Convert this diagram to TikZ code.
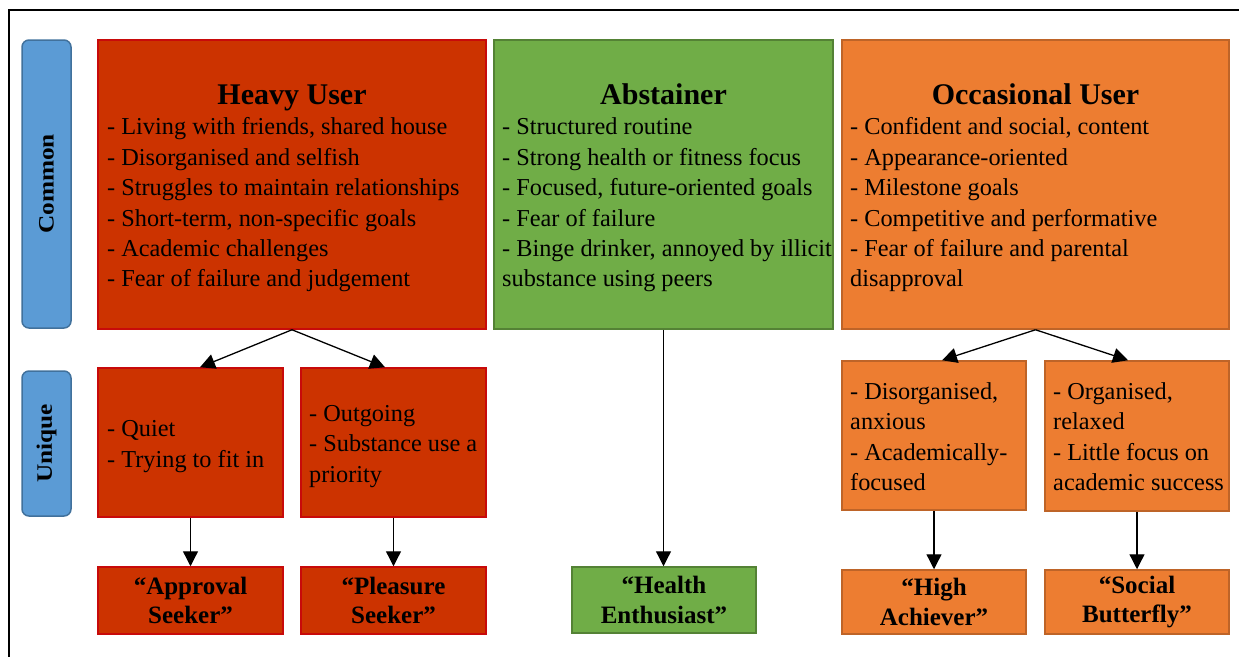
\documentclass[tikz,border=0pt]{standalone}
\usepackage{fontspec}
\setmainfont{Liberation Serif}
\usetikzlibrary{arrows.meta,calc}
\definecolor{hufill}{RGB}{204,51,0}
\definecolor{hudraw}{RGB}{200,10,10}
\definecolor{abfill}{RGB}{112,173,71}
\definecolor{abdraw}{RGB}{84,130,53}
\definecolor{oufill}{RGB}{237,125,49}
\definecolor{oudraw}{RGB}{190,100,40}
\definecolor{blfill}{RGB}{91,155,213}
\definecolor{bldraw}{RGB}{65,113,156}
\tikzset{
  hubox/.style={draw=hudraw, fill=hufill, line width=1.5pt, inner sep=0pt},
  abbox/.style={draw=abdraw, fill=abfill, line width=1.5pt, inner sep=0pt},
  oubox/.style={draw=oudraw, fill=oufill, line width=1.5pt, inner sep=0pt},
  sidebox/.style={draw=bldraw, fill=blfill, line width=1.5pt, rounded corners=7pt, inner sep=0pt, minimum width=49pt},
  sidelabel/.style={rotate=90, inner sep=0pt, font=\fontsize{22}{24}\selectfont\bfseries},
  titletext/.style={inner sep=0pt, anchor=base, font=\fontsize{30}{32}\selectfont\bfseries},
  bodytext/.style={inner sep=0pt, anchor=west, align=left, font=\fontsize{24.3}{30.4}\selectfont},
  typetext/.style={inner sep=0pt, align=center, font=\fontsize{25}{29.5}\selectfont\bfseries},
  arr/.style={line width=1.3pt, -{Triangle[length=15pt,width=15pt]}}
}
\begin{document}
\begin{tikzpicture}[x=1pt,y=-1pt]
\useasboundingbox (0,0) rectangle (1239,656);
\draw[line width=2pt] (9,10) rectangle (1260,680);

% side labels
\node[sidebox, minimum height=288pt] (common) at (46.5,184) {};
\node[sidelabel] (commonlbl) at (46.5,184) {\scalebox{1.15}[1]{Common}};
\node[sidebox, minimum height=145pt] (unique) at (46.5,443.5) {};
\node[sidelabel] (uniquelbl) at (46.5,443.5) {\scalebox{1.15}[1]{Unique}};

% common boxes
\node[hubox, minimum width=388pt, minimum height=289pt] (hu) at (292,184.5) {};
\node[titletext] (hut) at (292,104) {Heavy User};
\node[bodytext] (hub) at (107,205) {- Living with friends, shared house\\- Disorganised and selfish\\- Struggles to maintain relationships\\- Short-term, non-specific goals\\- Academic challenges\\- Fear of failure and judgement};

\node[abbox, minimum width=339pt, minimum height=289pt] (ab) at (663.5,184.5) {};
\node[titletext] (abt) at (663.5,104) {Abstainer};
\node[bodytext] (abb) at (502,205) {- Structured routine\\- Strong health or fitness focus\\- Focused, future-oriented goals\\- Fear of failure\\- Binge drinker, annoyed by illicit\\substance using peers};

\node[oubox, minimum width=387pt, minimum height=289pt] (ou) at (1035.5,184.5) {};
\node[titletext] (out) at (1035.5,104) {Occasional User};
\node[bodytext] (oub) at (850,205) {- Confident and social, content\\- Appearance-oriented\\- Milestone goals\\- Competitive and performative\\- Fear of failure and parental\\disapproval};

% unique boxes
\node[hubox, minimum width=185pt, minimum height=149pt] (q) at (190.5,442.5) {};
\node[bodytext] (qb) at (107,446.5) {- Quiet\\- Trying to fit in};
\node[hubox, minimum width=185pt, minimum height=149pt] (og) at (393.5,442.5) {};
\node[bodytext] (ogb) at (309,446.5) {- Outgoing\\- Substance use a\\priority};
\node[oubox, minimum width=184pt, minimum height=149pt] (dis) at (934,435.5) {};
\node[bodytext] (disb) at (850,436.5) {- Disorganised,\\anxious\\- Academically-\\focused};
\node[oubox, minimum width=184pt, minimum height=150pt] (org) at (1137,436) {};
\node[bodytext] (orgb) at (1053,436.5) {- Organised,\\relaxed\\- Little focus on\\academic success};

% type boxes
\node[hubox, minimum width=185pt, minimum height=67pt] (ap) at (190.5,600.5) {};
\node[typetext] (apt) at (190.5,600.5) {“Approval\\Seeker”};
\node[hubox, minimum width=185pt, minimum height=67pt] (pl) at (393.5,600.5) {};
\node[typetext] (plt) at (393.5,600.5) {“Pleasure\\Seeker”};
\node[abbox, minimum width=184pt, minimum height=66pt] (he) at (664,600) {};
\node[typetext] (het) at (664,600) {“Health\\Enthusiast”};
\node[oubox, minimum width=184pt, minimum height=64pt] (ha) at (934,602) {};
\node[typetext] (hat) at (934,602) {“High\\Achiever”};
\node[oubox, minimum width=184pt, minimum height=64pt] (sb) at (1137,602) {};
\node[typetext] (sbt) at (1137,602) {“Social\\Butterfly”};

% connectors
\draw[arr] (hu.south) -- ([xshift=9.5pt]q.north);
\draw[arr] (hu.south) -- ([xshift=-8.5pt]og.north);
\draw[arr] (ou.south) -- ([xshift=8pt]dis.north);
\draw[arr] (ou.south) -- ([xshift=-9pt]org.north);
\draw[arr] (q.south) -- (ap.north);
\draw[arr] (og.south) -- (pl.north);
\draw[arr] (ab.south) -- (he.north -| ab.south);
\draw[arr] (dis.south) -- (ha.north);
\draw[arr] (org.south) -- (sb.north);
\end{tikzpicture}
\end{document}
